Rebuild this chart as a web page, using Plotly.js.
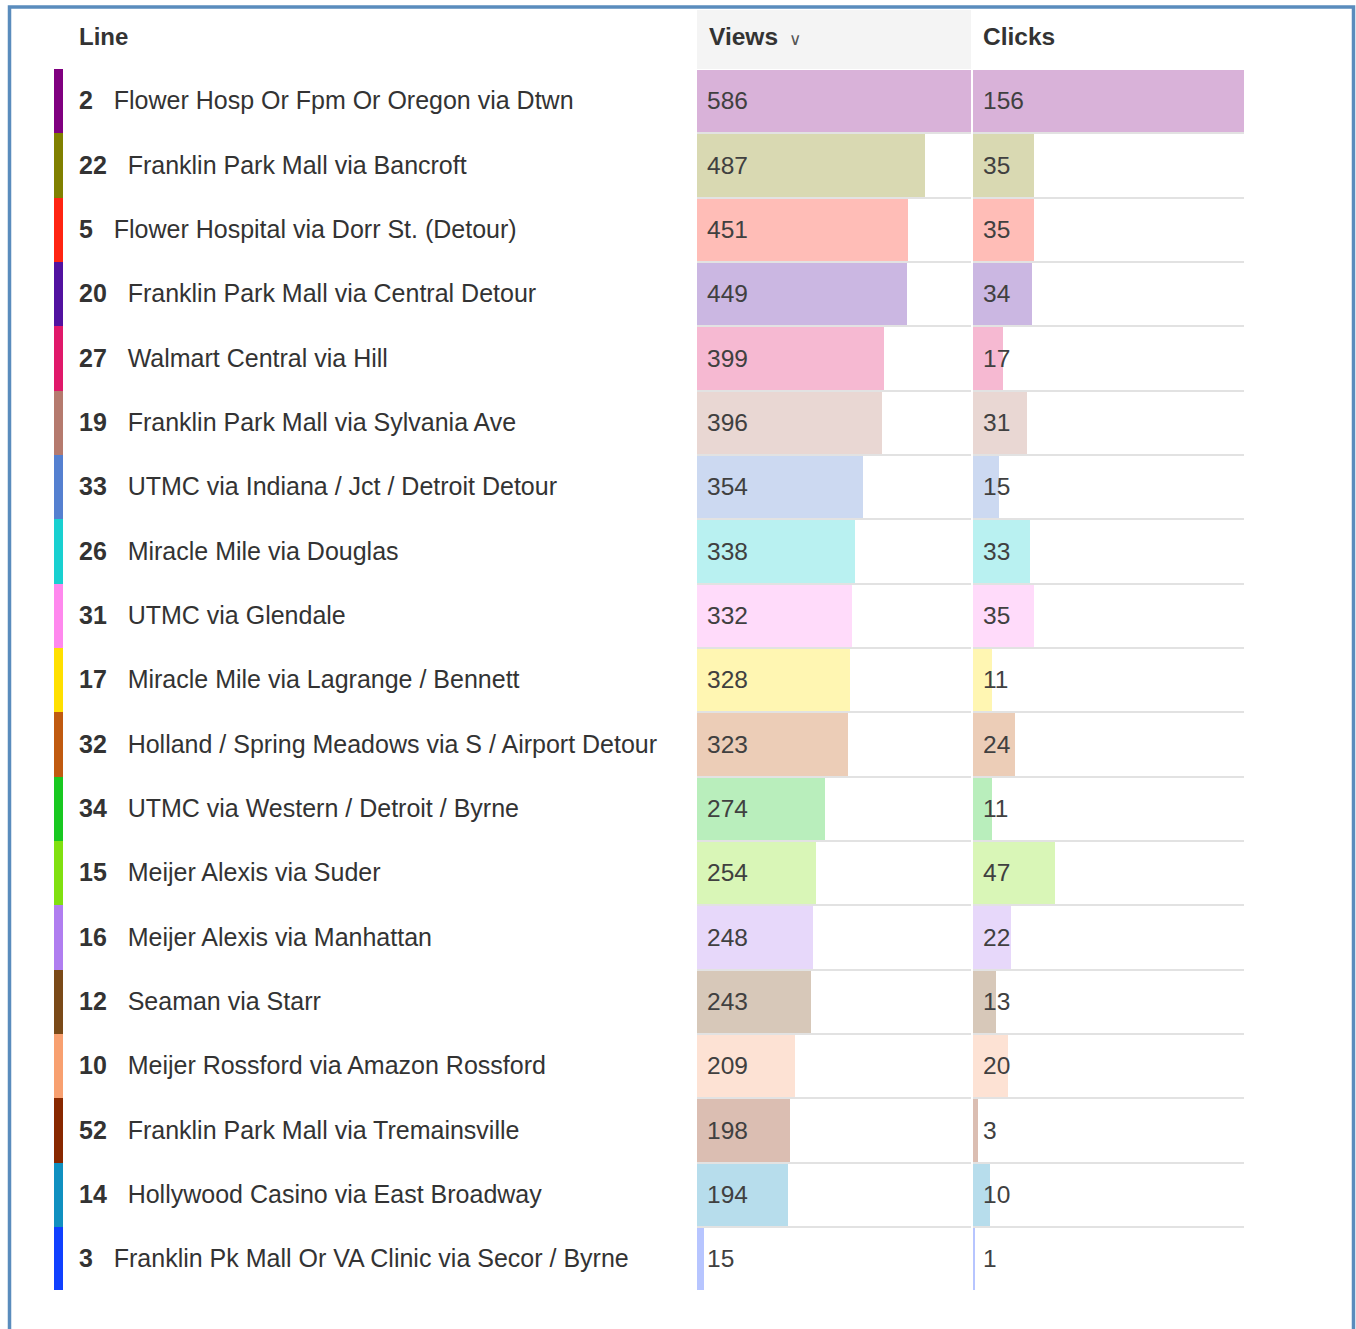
<!DOCTYPE html>
<html>
<head>
<meta charset="utf-8">
<script src="https://cdn.plot.ly/plotly-3.0.1.min.js"></script>
<style>html,body{margin:0;padding:0;background:#fff;}#chart{width:1356px;height:1329px;}</style>
</head>
<body>
<div id="chart"></div>
<script>
// ---- data ----
const lineNumbers = ['2','22','5','20','27','19','33','26','31','17','32','34','15','16','12','10','52','14','3'];
const lineNames = [
  'Flower Hosp Or Fpm Or Oregon via Dtwn',
  'Franklin Park Mall via Bancroft',
  'Flower Hospital via Dorr St. (Detour)',
  'Franklin Park Mall via Central Detour',
  'Walmart Central via Hill',
  'Franklin Park Mall via Sylvania Ave',
  'UTMC via Indiana / Jct / Detroit Detour',
  'Miracle Mile via Douglas',
  'UTMC via Glendale',
  'Miracle Mile via Lagrange / Bennett',
  'Holland / Spring Meadows via S / Airport Detour',
  'UTMC via Western / Detroit / Byrne',
  'Meijer Alexis via Suder',
  'Meijer Alexis via Manhattan',
  'Seaman via Starr',
  'Meijer Rossford via Amazon Rossford',
  'Franklin Park Mall via Tremainsville',
  'Hollywood Casino via East Broadway',
  'Franklin Pk Mall Or VA Clinic via Secor / Byrne'
];
const views  = [586,487,451,449,399,396,354,338,332,328,323,274,254,248,243,209,198,194,15];
const clicks = [156,35,35,34,17,31,15,33,35,11,24,11,47,22,13,20,3,10,1];
const lineColors = ['#800080','#808000','#ff2412','#5212a0','#e0186a','#b57a6e','#5580d0','#18d0d0','#ff88ee','#ffe000',
                    '#c05a10','#18c820','#80e010','#b07ef0','#7a4a18','#f8a070','#882800','#1090c0','#1040ff'];
const headers = ['Line', 'Views', 'Clicks'];

// ---- layout helpers ----
const W = 1356, H = 1329;
const px = v => v / W;
const py = v => 1 - v / H;
const rows = lineNumbers.map((_, i) => i);
const zeros = rows.map(() => 0);
const ones = rows.map(() => 1);
const FONT = '"Liberation Sans", Arial, sans-serif';

const traces = [
  // colour stripe
  {type:'bar', orientation:'h', x: ones, y: rows, width: 1, xaxis:'x4', yaxis:'y',
   marker:{color: lineColors, line:{width:0}}, hoverinfo:'skip'},
  // views bars
  {type:'bar', orientation:'h', x: views, y: rows, width: 0.965, xaxis:'x2', yaxis:'y',
   marker:{color: lineColors, opacity: 0.3, line:{width:0}}, hoverinfo:'skip'},
  // clicks bars
  {type:'bar', orientation:'h', x: clicks, y: rows, width: 0.965, xaxis:'x3', yaxis:'y',
   marker:{color: lineColors, opacity: 0.3, line:{width:0}}, hoverinfo:'skip'},
  // line labels
  {type:'scatter', mode:'markers+text', x: zeros, y: rows, xaxis:'x', yaxis:'y2',
   text: lineNumbers.map((n, i) => '<b>' + n + '</b>\u00a0\u00a0\u00a0' + lineNames[i]),
   textposition:'middle right', marker:{size:24, color:'rgba(0,0,0,0)'},
   textfont:{family: FONT, size:25, color:'#333333'}, hoverinfo:'skip', cliponaxis:false},
  // value labels
  {type:'scatter', mode:'markers+text', x: zeros, y: rows, xaxis:'x5', yaxis:'y2',
   text: views.map(String), textposition:'middle right', marker:{size:14.4, color:'rgba(0,0,0,0)'},
   textfont:{family: FONT, size:24.5, color:'#404040'}, hoverinfo:'skip', cliponaxis:false},
  {type:'scatter', mode:'markers+text', x: zeros, y: rows, xaxis:'x6', yaxis:'y2',
   text: clicks.map(String), textposition:'middle right', marker:{size:14.4, color:'rgba(0,0,0,0)'},
   textfont:{family: FONT, size:24.5, color:'#404040'}, hoverinfo:'skip', cliponaxis:false}
];

const hiddenX = {showgrid:false, zeroline:false, showticklabels:false, ticks:'', showline:false, fixedrange:true};
const yRange = [lineNumbers.length - 0.52, -0.5];
const layout = {
  width: W, height: H,
  margin:{l:0, r:0, t:0, b:0, pad:0},
  paper_bgcolor:'#ffffff', plot_bgcolor:'rgba(0,0,0,0)',
  showlegend:false, bargap:0,
  font:{family: FONT, color:'#333333'},
  xaxis:  Object.assign({}, hiddenX, {domain:[px(63), px(697)], range:[0, 1], anchor:'y'}),
  xaxis2: Object.assign({}, hiddenX, {domain:[px(697), px(971)], range:[0, Math.max(...views)], anchor:'y'}),
  xaxis3: Object.assign({}, hiddenX, {domain:[px(973), px(1244)], range:[0, Math.max(...clicks)], anchor:'y'}),
  xaxis4: Object.assign({}, hiddenX, {domain:[px(54), px(63)], range:[0, 1], anchor:'y'}),
  xaxis5: Object.assign({}, hiddenX, {domain:[px(697), px(971)], range:[0, 1], anchor:'y2'}),
  xaxis6: Object.assign({}, hiddenX, {domain:[px(973), px(1244)], range:[0, 1], anchor:'y2'}),
  yaxis: {domain:[py(1290), py(69)], range: yRange,
          tickmode:'linear', tick0:-0.5, dtick:1, showgrid:true, gridcolor:'#e2e2e2', gridwidth:2,
          zeroline:false, showticklabels:false, ticks:'', showline:false, fixedrange:true},
  // text layer, nudged 2px down to sit like the original row text
  yaxis2: {domain:[py(1292), py(71)], range: yRange, anchor:'x',
           showgrid:false, zeroline:false, showticklabels:false, ticks:'', showline:false, fixedrange:true},
  shapes: [
    {type:'rect', xref:'x2 domain', yref:'paper', x0:0, x1:1, y0:py(69), y1:py(10),
     fillcolor:'#f4f4f4', line:{width:0}, layer:'below'},
    {type:'rect', xref:'paper', yref:'paper', x0:px(9.5), x1:px(1353.5), y0:py(7), y1:-0.05,
     fillcolor:'rgba(0,0,0,0)', line:{color:'#5a8cbd', width:3.5}}
  ],
  annotations: [
    {xref:'paper', yref:'paper', x:px(77), y:py(36), xanchor:'left', yanchor:'middle', showarrow:false,
     text:'<b>' + headers[0] + '</b>', font:{family: FONT, size:24, color:'#333333'}},
    {xref:'paper', yref:'paper', x:px(707), y:py(36), xanchor:'left', yanchor:'middle', showarrow:false,
     text:'<b>' + headers[1] + '</b>', font:{family: FONT, size:24.5, color:'#333333'}},
    {xref:'paper', yref:'paper', x:px(787), y:py(39), xanchor:'left', yanchor:'middle', showarrow:false,
     text:'\u2228', font:{family:'DejaVu Sans', size:17, color:'#555555'}},
    {xref:'paper', yref:'paper', x:px(981), y:py(36), xanchor:'left', yanchor:'middle', showarrow:false,
     text:'<b>' + headers[2] + '</b>', font:{family: FONT, size:24.5, color:'#333333'}}
  ]
};

Plotly.newPlot('chart', traces, layout, {displayModeBar:false, staticPlot:true});
</script>
</body>
</html>
